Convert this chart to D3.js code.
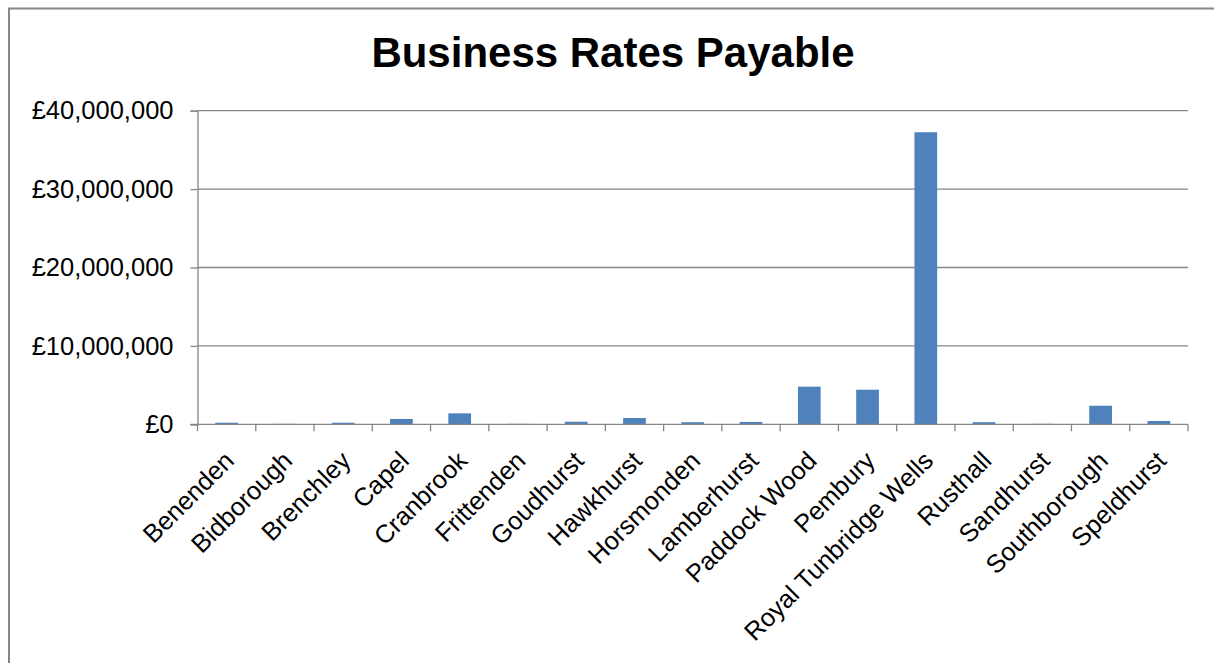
<!DOCTYPE html>
<meta charset="utf-8">
<style>
body { margin: 0; background: #fff; }
svg { font-family: "Liberation Sans", Arial, sans-serif; }
.grid line { stroke: #868686; stroke-width: 1.3px; }
.axis path, .axis line { stroke: #868686; stroke-width: 1.3px; }
.axis text { fill: #000; font-size: 25.5px; font-family: "Liberation Sans", Arial, sans-serif; }
</style>
<svg width="1214" height="663"></svg>
<script src="https://d3js.org/d3.v7.min.js"></script>
<script>

// parishes, in chart order
var parishes = ["Benenden", "Bidborough", "Brenchley", "Capel", "Cranbrook", "Frittenden",
  "Goudhurst", "Hawkhurst", "Horsmonden", "Lamberhurst", "Paddock Wood", "Pembury",
  "Royal Tunbridge Wells", "Rusthall", "Sandhurst", "Southborough", "Speldhurst"];

// business rates payable, £
var rates = [200000, 60000, 200000, 680000, 1400000, 60000,
  330000, 800000, 270000, 300000, 4800000, 4410000,
  37250000, 270000, 60000, 2370000, 420000];

var yTicks = [0, 10000000, 20000000, 30000000, 40000000];

var svg = d3.select("svg"),
    width = +svg.attr("width"),
    height = +svg.attr("height");

var margin = {left: 197.5, right: 26, top: 110.7, bottom: 238.7};

// chart frame (right and bottom edges fall outside the picture)
svg.append("rect")
    .attr("x", 9).attr("y", 8.5)
    .attr("width", 1300).attr("height", 800)
    .attr("fill", "none")
    .attr("stroke", "#868686")
    .attr("stroke-width", 2);

var x = d3.scaleBand()
    .domain(parishes)
    .range([margin.left, width - margin.right])
    .paddingInner(0.61)
    .paddingOuter(0.305);

var y = d3.scaleLinear()
    .domain([0, 40000000])
    .range([height - margin.bottom, margin.top]);

var fmt = function(d) { return "£" + d3.format(",")(d); };

svg.append("text")
    .attr("x", 613).attr("y", 67)
    .attr("text-anchor", "middle")
    .style("font-size", "42px")
    .style("font-weight", "bold")
    .text("Business Rates Payable");

// gridlines
svg.append("g").attr("class", "grid")
  .selectAll("line")
  .data(yTicks.slice(1)).enter()
  .append("line")
    .attr("x1", margin.left).attr("x2", width - margin.right)
    .attr("y1", function(d) { return y(d); })
    .attr("y2", function(d) { return y(d); });

// y axis
svg.append("g").attr("class", "axis")
    .attr("transform", "translate(" + margin.left + ",0)")
    .call(d3.axisLeft(y).tickValues(yTicks).tickFormat(fmt).tickSizeOuter(0).tickSize(7).tickPadding(17));

// bars
svg.append("g")
  .selectAll("rect")
  .data(rates).enter()
  .append("rect")
    .attr("x", function(d, i) { return x(parishes[i]); })
    .attr("width", x.bandwidth())
    .attr("y", function(d) { return y(d); })
    .attr("height", function(d) { return y(0) - y(d); })
    .attr("fill", "#4F81BD");

// x axis, ticks between categories
var xAxis = svg.append("g").attr("class", "axis")
    .attr("transform", "translate(0," + y(0) + ")");

xAxis.append("line")
    .attr("x1", margin.left - 7).attr("x2", width - margin.right);

var edges = parishes.map(function(p) { return x(p) - x.step() * x.paddingInner() / 2; });
edges.push(width - margin.right);
xAxis.selectAll(".tk")
  .data(edges).enter()
  .append("line")
    .attr("class", "tk")
    .attr("x1", function(d) { return d; }).attr("x2", function(d) { return d; })
    .attr("y1", 0).attr("y2", 7);

xAxis.selectAll("text")
  .data(parishes).enter()
  .append("text")
    .attr("text-anchor", "end")
    .attr("transform", function(d) {
      return "translate(" + (x(d) + x.bandwidth() / 2 + 9) + ",38) rotate(-45)";
    })
    .text(function(d) { return d; });

</script>
